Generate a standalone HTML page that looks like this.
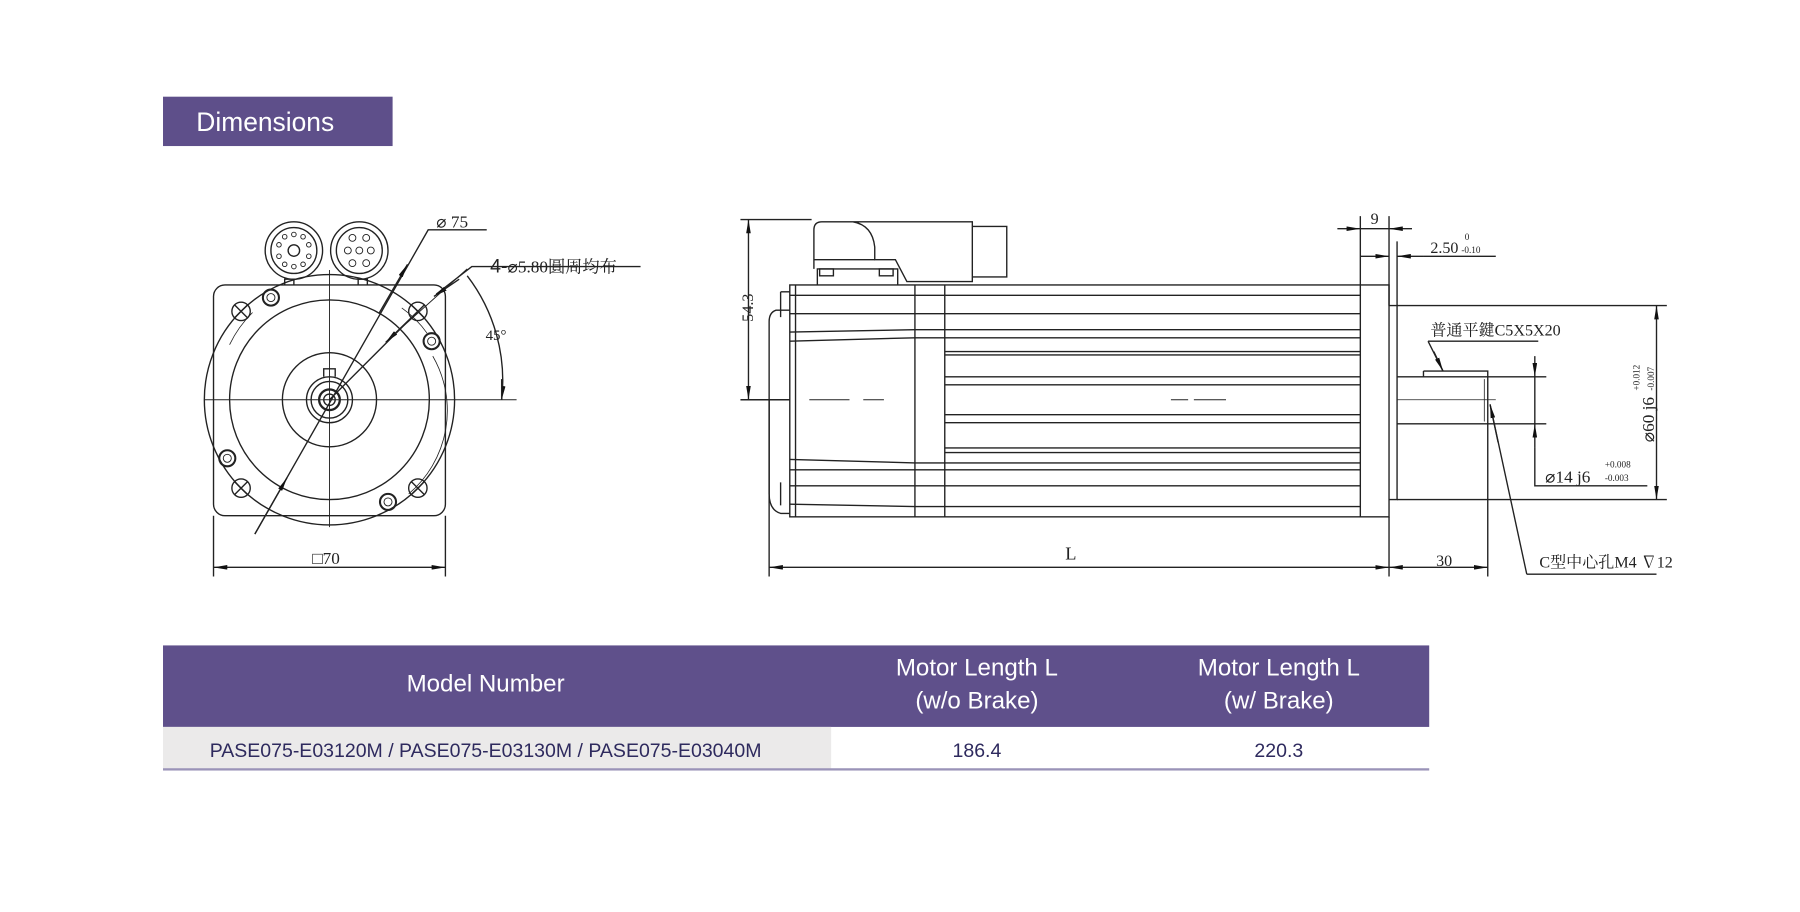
<!DOCTYPE html>
<html><head><meta charset="utf-8"><style>
html,body{margin:0;padding:0;background:#fff;}
svg{display:block;}
.t{font-family:"Liberation Serif","Noto Serif CJK SC",serif;fill:#222;}
.s{font-family:"Liberation Sans",sans-serif;}
</style></head><body>
<svg width="1800" height="912" viewBox="0 0 1568 794" xmlns="http://www.w3.org/2000/svg">
<defs>
<marker id="a" viewBox="0 0 12 4" refX="12" refY="2" markerWidth="12" markerHeight="4" markerUnits="userSpaceOnUse" orient="auto-start-reverse"><path d="M0,0 L12,2 L0,4 z" fill="#111"/></marker>
</defs>
<rect width="1568" height="794" fill="#fff"/>
<rect x="142" y="84" width="200" height="43" fill="#5e4f8a"/>
<text x="171" y="114" class="s" font-size="23" fill="#fff">Dimensions</text>

<g stroke="#222" stroke-width="1.2" fill="none">
<rect x="186" y="248" width="202" height="201" rx="10"/>
<circle cx="287" cy="348" r="109"/>
<circle cx="287" cy="348" r="87"/>
<circle cx="287" cy="348" r="41"/>
<circle cx="287" cy="348" r="20"/>
<circle cx="287" cy="348" r="16"/>
<circle cx="287" cy="348" r="9" stroke-width="2"/>
<circle cx="287" cy="348" r="5"/>
<path d="M282,328 v-7 h10 v7"/>
<g>
<circle cx="210" cy="271" r="8"/><path d="M204,265 l12,12 M216,265 l-12,12"/>
<circle cx="364" cy="271" r="8"/><path d="M358,265 l12,12 M370,265 l-12,12"/>
<circle cx="210" cy="425" r="8"/><path d="M204,419 l12,12 M216,419 l-12,12"/>
<circle cx="364" cy="425" r="8"/><path d="M358,419 l12,12 M370,419 l-12,12"/>
</g>
<g stroke-width="1.8">
<circle cx="236" cy="259" r="7"/><circle cx="376" cy="297" r="7"/><circle cx="198" cy="399" r="7"/><circle cx="338" cy="437" r="7"/>
</g>
<g stroke-width="0.8">
<circle cx="236" cy="259" r="3.5"/><circle cx="376" cy="297" r="3.5"/><circle cx="198" cy="399" r="3.5"/><circle cx="338" cy="437" r="3.5"/>
</g>
<path d="M350,268 A90,90 0 0 1 372,290 M377,310 A95,95 0 0 1 356,430 M200,300 A100,100 0 0 1 220,272" stroke-width="0.7"/>
<path d="M248,248 v-5 h8 v5 M312,248 v-5 h8 v5"/>
<circle cx="256" cy="218" r="25"/><circle cx="256" cy="218" r="20"/><circle cx="256" cy="218" r="5"/>
<circle cx="313" cy="218" r="25"/><circle cx="313" cy="218" r="20"/>
<g stroke-width="0.8">
<circle cx="256" cy="204" r="2"/><circle cx="248" cy="206" r="2"/><circle cx="264" cy="206" r="2"/><circle cx="243" cy="213" r="2"/><circle cx="269" cy="213" r="2"/><circle cx="243" cy="223" r="2"/><circle cx="269" cy="223" r="2"/><circle cx="248" cy="230" r="2"/><circle cx="264" cy="230" r="2"/><circle cx="256" cy="232" r="2"/>
<circle cx="307" cy="207" r="3"/><circle cx="319" cy="207" r="3"/><circle cx="303" cy="218" r="3"/><circle cx="313" cy="218" r="3"/><circle cx="323" cy="218" r="3"/><circle cx="307" cy="229" r="3"/><circle cx="319" cy="229" r="3"/>
</g>
<path d="M178,348 H450 M287,235 V459" stroke-width="0.8"/>
<path d="M222,465 L373,200 H424"/>
<path d="M250,416 L222,465" marker-start="url(#a)"/>
<path d="M330,273 L355,230" marker-end="url(#a)"/>
<path d="M287,348 L364,271"/>
<path d="M336,298 L364,271" marker-start="url(#a)"/>
<path d="M380,256 L411,232 H558"/>
<path d="M378,258 L400,243" marker-start="url(#a)"/>
<path d="M340,294 L407,234" stroke-width="0.8"/>
<path d="M407,240 A150,150 0 0 1 437,348" marker-end="url(#a)"/>
<path d="M437,330 L437,348"/>
<path d="M186,449 V502 M388,449 V502"/>
<path d="M186,494 H388" marker-start="url(#a)" marker-end="url(#a)"/>
</g>
<text x="380" y="198" class="t" font-size="15">⌀ 75</text>
<text x="427" y="237" class="t" font-size="15"><tspan font-family="Liberation Sans" font-size="17">4-</tspan>⌀5.80圓周均布</text>
<text x="423" y="296" class="t" font-size="13">45°</text>
<text x="272" y="491" class="t" font-size="15">□70</text>

<g stroke="#222" stroke-width="1.2" fill="none">
<path d="M688,270 H676 Q670,272 670,280 V430 Q670,444 680,447 H688"/>
<path d="M680,254 h8 M680,254 v22 M680,420 v20"/>
<rect x="688" y="248" width="522" height="202"/>
<path d="M693,248 V450 M797,248 V450 M823,248 V450 M1185,248 V450"/>
<path d="M688,257 H1185 M688,273 H1185 M688,289 L797,287 H1185 M688,297 L797,294 H1185 M823,306 H1185 M823,309 H1185 M823,328 H1185 M823,335 H1185 M823,361 H1185 M823,368 H1185 M823,390 H1185 M823,394 H1185 M688,400 L797,403 H1185 M688,409 H1185 M688,423 H1185 M688,439 L797,441 H1185"/>
<path d="M705,348 H740 M752,348 H770 M1020,348 H1035 M1040,348 H1068" stroke-width="0.8"/>
<path d="M1210,266 H1217 V435 H1210"/>
<path d="M1217,328 H1296 V369 H1217"/>
<path d="M1240,323 H1296 V328 M1240,323 V328"/>
<path d="M1293,330 V367 M1217,348 H1303" stroke-width="0.7"/>
<path d="M712,248 V234 H782 V248"/>
<path d="M714,240 h12 v-6 h-12 z M766,240 h12 v-6 h-12 z"/>
<path d="M709,234 V200 Q709,193 716,193 H743 Q760,196 762,215 V226 H780 L790,245 H847 V193 H743"/>
<path d="M709,226 H762"/>
<path d="M847,197 H877 V241 H847"/>
<path d="M645,191 H707 M645,348 H688"/>
<path d="M652,191 V348" marker-start="url(#a)" marker-end="url(#a)"/>
<path d="M670,348 V502 M1210,450 V502 M1296,369 V502"/>
<path d="M670,494 H1210" marker-start="url(#a)" marker-end="url(#a)"/>
<path d="M1210,494 H1296" marker-start="url(#a)" marker-end="url(#a)"/>
<path d="M1185,188 V248 M1210,188 V266 M1217,210 V266"/>
<path d="M1165,199 H1185" marker-end="url(#a)"/>
<path d="M1230,199 H1210" marker-end="url(#a)"/>
<path d="M1185,199 H1210"/>
<path d="M1185,223 H1210" marker-end="url(#a)"/>
<path d="M1240,223 H1217" marker-end="url(#a)"/>
<path d="M1240,223 H1303"/>
<path d="M1217,266 H1452 M1217,435 H1452"/>
<path d="M1443,266 V435" marker-start="url(#a)" marker-end="url(#a)"/>
<path d="M1296,328 H1347 M1296,369 H1347"/>
<path d="M1337,310 V328" marker-end="url(#a)"/>
<path d="M1337,390 V369" marker-end="url(#a)"/>
<path d="M1337,328 V369 M1337,390 V423 H1435"/>
<path d="M1244,297 H1340 M1244,297 L1257,323"/>
<path d="M1249,306 L1257,323" marker-end="url(#a)"/>
<path d="M1330,500 H1443 M1330,500 L1298,352"/>
<path d="M1305,385 L1298,352" marker-end="url(#a)"/>
</g>
<text x="656" y="280" class="t" font-size="14" transform="rotate(-90 656 280)">54.3</text>
<text x="928" y="487" class="t" font-size="16">L</text>
<text x="1251" y="493" class="t" font-size="14">30</text>
<text x="1194" y="195" class="t" font-size="14">9</text>
<text x="1246" y="220" class="t" font-size="14">2.50</text>
<text x="1276" y="209" class="t" font-size="8">0</text>
<text x="1273" y="220" class="t" font-size="8">-0.10</text>
<text x="1246" y="292" class="t" font-size="14">普通平鍵C5X5X20</text>
<text x="1346" y="420" class="t" font-size="15">⌀14  j6</text>
<text x="1398" y="407" class="t" font-size="8">+0.008</text>
<text x="1398" y="419" class="t" font-size="8">-0.003</text>
<text x="1441" y="385" class="t" font-size="15" transform="rotate(-90 1441 385)">⌀60  j6</text>
<text x="1428" y="340" class="t" font-size="8" transform="rotate(-90 1428 340)">+0.012</text>
<text x="1441" y="340" class="t" font-size="8" transform="rotate(-90 1441 340)">-0.007</text>
<text x="1341" y="494" class="t" font-size="14">C型中心孔M4 ∇12</text>

<rect x="142" y="562" width="1103" height="71" fill="#5f508b"/>
<rect x="142" y="633" width="582" height="37" fill="#ebeaea"/>
<rect x="142" y="669" width="1103" height="2" fill="#9a93b8"/>
<g class="s" font-size="21" fill="#fff" text-anchor="middle">
<text x="423" y="602">Model Number</text>
<text x="851" y="588">Motor Length L</text>
<text x="851" y="617">(w/o Brake)</text>
<text x="1114" y="588">Motor Length L</text>
<text x="1114" y="617">(w/ Brake)</text>
</g>
<g class="s" font-size="17" fill="#2e2a5e" text-anchor="middle">
<text x="423" y="659">PASE075-E03120M / PASE075-E03130M / PASE075-E03040M</text>
<text x="851" y="659">186.4</text>
<text x="1114" y="659">220.3</text>
</g>
</svg>
</body></html>
